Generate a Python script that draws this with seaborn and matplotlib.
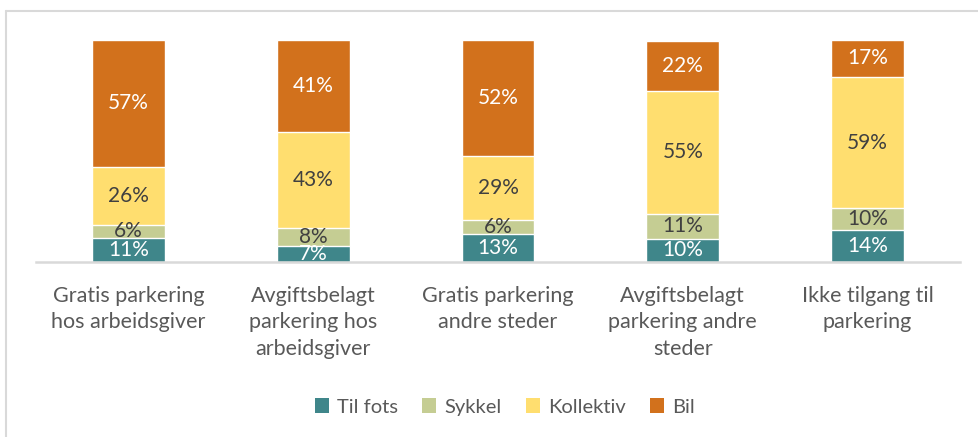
import numpy as np
import pandas as pd
import matplotlib
matplotlib.use('Agg')
import matplotlib.pyplot as plt
import seaborn as sns
from matplotlib.lines import Line2D
from matplotlib.patches import Patch

categories = ['Gratis parkering\nhos arbeidsgiver',
              'Avgiftsbelagt\nparkering hos\narbeidsgiver',
              'Gratis parkering\nandre steder',
              'Avgiftsbelagt\nparkering andre\nsteder',
              'Ikke tilgang til\nparkering']
series = ['Til fots', 'Sykkel', 'Kollektiv', 'Bil']
til_fots = [10.8, 7.3, 12.8, 10.4, 14.2]
sykkel = [5.9, 8.2, 6.2, 11.4, 9.9]
kollektiv = [26.1, 43.1, 28.8, 55.4, 59.3]
bil = [57.2, 41.4, 52.2, 22.4, 16.6]

colors = {'Til fots': '#3F868A', 'Sykkel': '#C5CD93',
          'Kollektiv': '#FFDE6F', 'Bil': '#D2711C'}
text_colors = {'Til fots': 'white', 'Sykkel': '#404040',
               'Kollektiv': '#404040', 'Bil': 'white'}

sns.set_style('white')
plt.rcParams['font.family'] = ['Lato', 'DejaVu Sans']

df = pd.DataFrame({'cat': categories, 'Til fots': til_fots, 'Sykkel': sykkel,
                   'Kollektiv': kollektiv, 'Bil': bil})
cum = df[series].cumsum(axis=1)
bottoms = cum - df[series]

fig = plt.figure(figsize=(9.79, 4.37), dpi=100)
ax = fig.add_axes([36 / 979, 1 - 262 / 437, 924 / 979, 222 / 437])

# stacked bars: draw cumulative totals from the top layer down
for s in reversed(series):
    sns.barplot(x=df['cat'], y=cum[s], color=colors[s], width=0.395,
                saturation=1, ax=ax, order=categories)

for i in range(len(categories)):
    for s in series:
        v = df.loc[i, s]
        ax.text(i, bottoms.loc[i, s] + v / 2, f'{round(v)}%',
                ha='center', va='center', fontsize=15,
                color=text_colors[s])

ax.set_ylim(0, 100)
ax.set_xlim(-0.5, 4.5)
ax.set_yticks([])
ax.set_xlabel('')
ax.set_ylabel('')
for sp in ['top', 'right', 'left']:
    ax.spines[sp].set_visible(False)
ax.spines['bottom'].set_color('#D9D9D9')
ax.spines['bottom'].set_linewidth(1.8)
ax.tick_params(axis='x', length=0, pad=17)
ax.set_xticks(range(len(categories)))
ax.set_xticklabels(categories, fontsize=15.5, color='#595959', linespacing=1.42,
                   va='top')

handles = [Patch(facecolor=colors[s], edgecolor='none', label=s) for s in series]
fig.legend(handles=handles, loc='center', bbox_to_anchor=(505 / 979, 1 - 407 / 437),
           ncol=4, frameon=False, fontsize=14.5, handlelength=0.7,
           handleheight=0.7, handletextpad=0.4, columnspacing=1.2,
           labelcolor='#595959')

# chart border (top and left edges visible)
fig.add_artist(Line2D([6.5 / 979, 1], [1 - 10.5 / 437] * 2, color='#D9D9D9',
                      lw=1.5, transform=fig.transFigure))
fig.add_artist(Line2D([6.5 / 979] * 2, [0, 1 - 10.5 / 437], color='#D9D9D9',
                      lw=1.5, transform=fig.transFigure))

fig.savefig('out.png', dpi=100)
